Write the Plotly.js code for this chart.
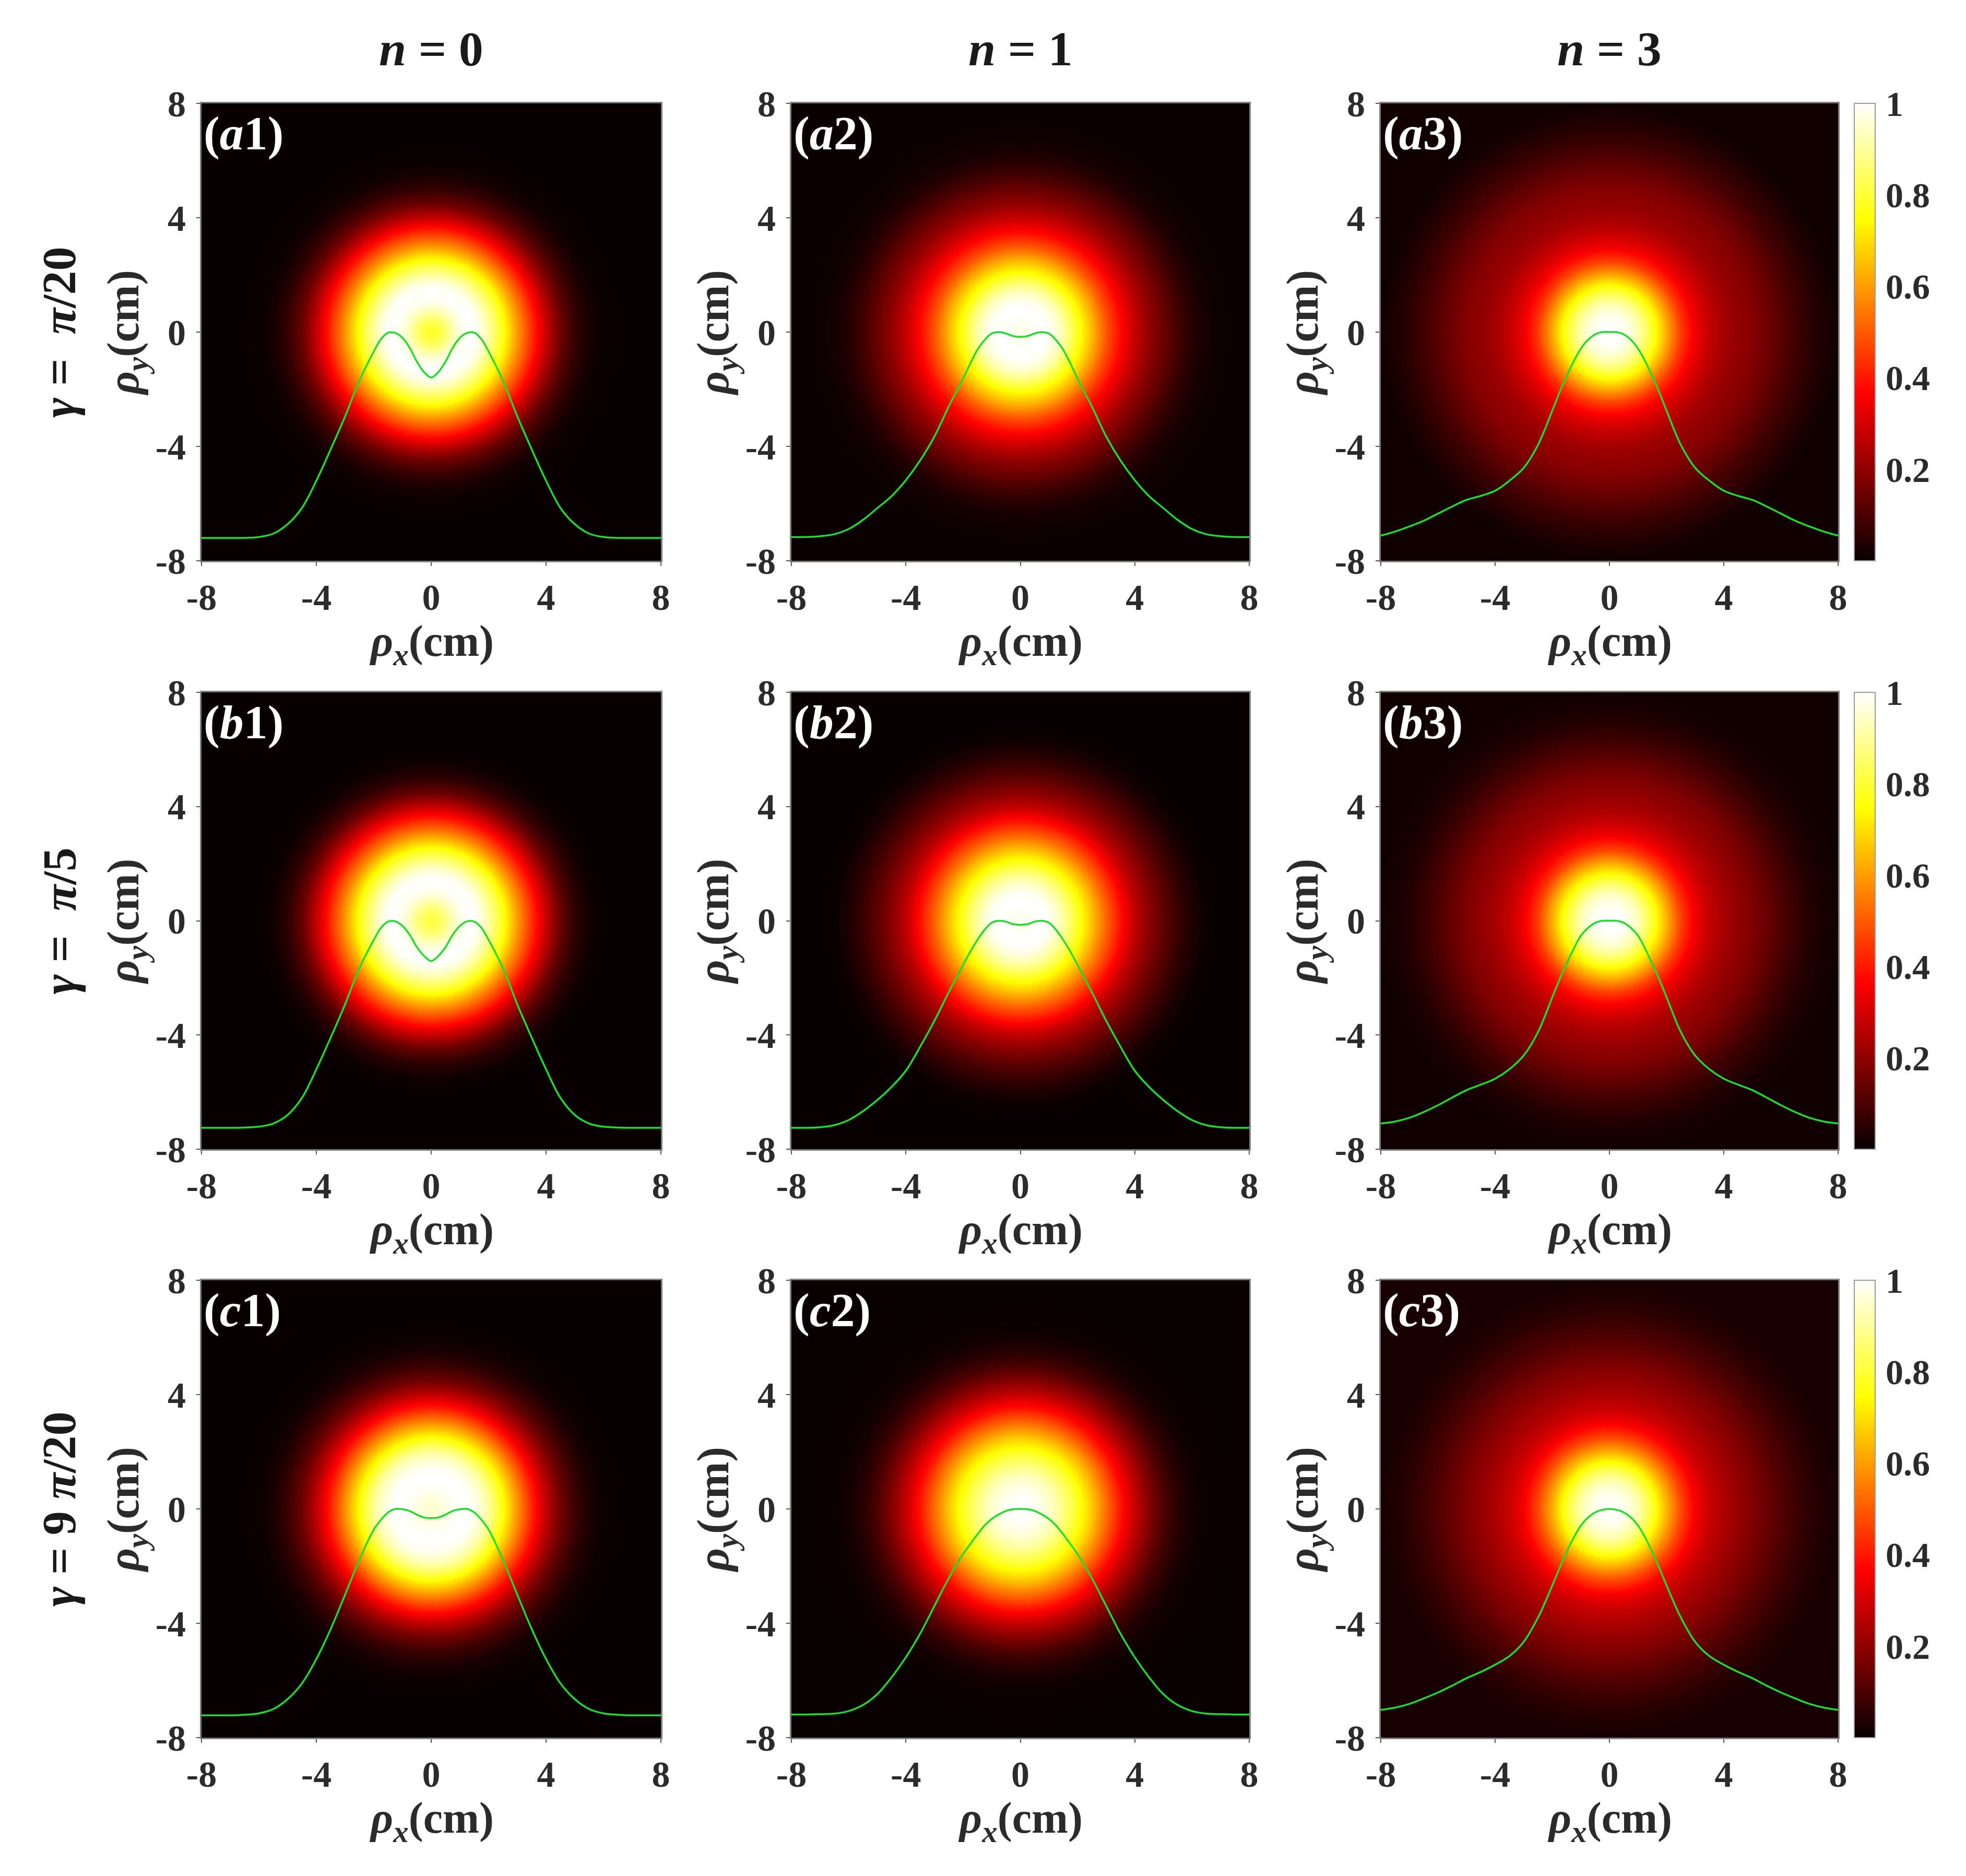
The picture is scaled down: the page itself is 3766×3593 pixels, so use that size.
<!DOCTYPE html>
<html><head><meta charset="utf-8">
<script src="https://cdn.plot.ly/plotly-3.0.1.min.js"></script>
<style>html,body{margin:0;padding:0;background:#fff}</style>
</head><body><div id="chart" style="width:3766px;height:3593px"></div>
<script>
// Radial coordinate (cm) at which each profile was read
const radius = [0,.25,.5,.75,1,1.25,1.5,1.75,2,2.5,3,3.5,4,4.5,5,5.5,6,6.5,7,7.5,8];
// Green-curve height (rho_y, cm) read at those radii, one list per panel
const a1 = [-1.59,-1.4,-1.03,-.55,-.2,-.03,-.02,-.25,-.68,-1.7,-2.95,-4.1,-5.2,-6.15,-6.72,-7.05,-7.17,-7.2,-7.2,-7.2,-7.2];
const a2 = [-.17,-.14,-.05,0,-.05,-.28,-.62,-1.1,-1.63,-2.6,-3.65,-4.49,-5.18,-5.74,-6.16,-6.57,-6.89,-7.07,-7.14,-7.17,-7.17];
const a3 = [0,0,-.08,-.27,-.58,-1.02,-1.55,-2.12,-2.75,-3.95,-4.75,-5.2,-5.55,-5.73,-5.87,-6.1,-6.35,-6.6,-6.8,-6.98,-7.12];
const b1 = [-1.41,-1.23,-.92,-.49,-.18,-.02,-.03,-.25,-.67,-1.66,-2.93,-4.09,-5.2,-6.2,-6.8,-7.1,-7.21,-7.24,-7.25,-7.25,-7.25];
const b2 = [-.14,-.12,-.03,0,-.07,-.32,-.67,-1.08,-1.55,-2.5,-3.5,-4.41,-5.25,-5.82,-6.28,-6.67,-6.98,-7.16,-7.23,-7.25,-7.25];
const b3 = [0,0,-.07,-.25,-.52,-.98,-1.51,-2.07,-2.68,-3.9,-4.72,-5.2,-5.53,-5.74,-5.93,-6.19,-6.46,-6.7,-6.9,-7.03,-7.1];
const c1 = [-.32,-.3,-.2,-.07,-.01,0,-.12,-.38,-.72,-1.78,-3,-4.2,-5.25,-6.1,-6.65,-7,-7.15,-7.2,-7.22,-7.22,-7.22];
const c2 = [0,-.01,-.07,-.19,-.35,-.58,-.89,-1.23,-1.58,-2.42,-3.39,-4.36,-5.19,-5.89,-6.48,-6.86,-7.07,-7.16,-7.18,-7.19,-7.19];
const c3 = [0,-.03,-.12,-.3,-.58,-1.0,-1.51,-2.08,-2.68,-3.8,-4.65,-5.15,-5.45,-5.7,-5.92,-6.18,-6.42,-6.63,-6.82,-6.95,-7.03];
const panels = [[a1,a2,a3],[b1,b2,b3],[c1,c2,c3]];
const panelLabels = [['a','1'],['a','2'],['a','3'],['b','1'],['b','2'],['b','3'],['c','1'],['c','2'],['c','3']];
const columnTitles = ['0','1','3'];
const rowTitles = ['<i>γ</i> =  <i>π</i>/20','<i>γ</i> =  <i>π</i>/5','<i>γ</i> = 9 <i>π</i>/20'];
const tickVals = [-8,-4,0,4,8];
const tickText = ['-8','-4','0','4','8'];
const barVals = [0.2,0.4,0.6,0.8,1];
const barText = ['0.2','0.4','0.6','0.8','1'];
const curveBase = -7.2;   // rho_y position of zero on the overlaid curve

const W = 3766, H = 3593;
const colL = [386,1516,2645], colR = [1266,2393,3521];
const rowT = [198,1326,2452], rowB = [1074,2201,3328];
const FONT = 'Liberation Serif';
const TXT = '#2b2b2b';
const hot = [[0,'#080000'],[0.365,'#ff0000'],[0.746,'#ffff00'],[1,'#ffffff']];

const fx = p => p / W, fy = p => 1 - p / H;

function lookup(prof, r) {
  if (r >= radius[radius.length-1]) return prof[prof.length-1];
  let i = 0;
  while (radius[i+1] < r) i++;
  const t = (r - radius[i]) / (radius[i+1] - radius[i]);
  return prof[i] + t * (prof[i+1] - prof[i]);
}
const grid = [];
for (let i = -80; i <= 80; i++) grid.push(i / 10);

const data = [], layout = {
  width: W, height: H, margin: {l:0,r:0,t:0,b:0},
  paper_bgcolor: '#fff', plot_bgcolor: '#000', showlegend: false,
  font: {family: FONT, color: TXT, size: 70}, annotations: []
};

panels.forEach((row, ri) => row.forEach((prof, ci) => {
  const n = ri * 3 + ci + 1, sfx = n === 1 ? '' : String(n);
  const z = grid.map(y => grid.map(x => {
    const v = lookup(prof, Math.sqrt(x*x + y*y));
    return Math.max(0, Math.min(1, (v - curveBase) / -curveBase));
  }));
  const hm = {type:'heatmap', x:grid, y:grid, z:z, xaxis:'x'+sfx, yaxis:'y'+sfx,
    colorscale:hot, zmin:0, zmax:1, zsmooth:'best', hoverinfo:'skip', showscale:false};
  if (ci === 2) {
    hm.showscale = true;
    hm.colorbar = {x:3552/W, xanchor:'left', xpad:0, ypad:0, thickness:40, thicknessmode:'pixels',
      y:(fy(rowT[ri])+fy(rowB[ri]))/2, yanchor:'middle', len:(rowB[ri]-rowT[ri])/H, lenmode:'fraction',
      outlinewidth:2, outlinecolor:'#9a9a9a', tickmode:'array', tickvals:barVals, ticktext:barText,
      ticks:'outside', ticklen:6, tickcolor:'rgba(0,0,0,0)',
      tickfont:{family:FONT, size:68, color:TXT, weight:'bold'}};
  }
  data.push(hm);
  const xs = radius.slice(1).reverse().map(r => -r).concat(radius);
  const ys = prof.slice(1).reverse().concat(prof);
  data.push({type:'scatter', mode:'lines', x:xs, y:ys, xaxis:'x'+sfx, yaxis:'y'+sfx,
    line:{color:'#1fdc2c', width:3.5, shape:'spline', smoothing:1}, hoverinfo:'skip'});

  const base = {range:[-8,8], tickmode:'array', tickvals:tickVals, ticktext:tickText,
    ticks:'outside', ticklen:7, tickwidth:2, tickcolor:'#555', showline:true, mirror:true,
    linecolor:'#808080', linewidth:3, showgrid:false, zeroline:false, automargin:false,
    tickfont:{family:FONT, size:70, color:TXT, weight:'bold'}};
  layout['xaxis'+sfx] = Object.assign({}, base, {domain:[fx(colL[ci]),fx(colR[ci])], anchor:'y'+sfx,
    ticklabelstandoff:0});
  layout['yaxis'+sfx] = Object.assign({}, base, {domain:[fy(rowB[ri]),fy(rowT[ri])], anchor:'x'+sfx,
    ticklabelstandoff:6,
    title:{text:'<i>ρ</i><sub><i>y</i></sub>(cm)', standoff:4, font:{family:FONT,size:86,color:TXT,weight:'bold'}}});

  layout.annotations.push({xref:'paper', yref:'paper', x:fx((colL[ci]+colR[ci])/2), y:fy(rowB[ri]+160),
    xanchor:'center', yanchor:'middle', showarrow:false, borderpad:0,
    text:'<i>ρ</i><sub><i>x</i></sub>(cm)', font:{family:FONT,size:84,color:TXT,weight:'bold'}});
  layout.annotations.push({xref:'paper', yref:'paper', x:fx(colL[ci]+2), y:fy(rowT[ri]+57),
    xanchor:'left', yanchor:'middle', showarrow:false,
    text:'(<i>'+panelLabels[n-1][0]+'</i>'+panelLabels[n-1][1]+')',
    font:{family:FONT, size:92, color:'#ffffff', weight:'bold'}});
}));

columnTitles.forEach((t, ci) => layout.annotations.push({xref:'paper', yref:'paper',
  x:fx((colL[ci]+colR[ci])/2), y:fy(93), xanchor:'center', yanchor:'middle', showarrow:false,
  text:'<i>n</i> = '+t, font:{family:FONT, size:94, color:'#1a1a1a', weight:'bold'}}));
rowTitles.forEach((t, ri) => layout.annotations.push({xref:'paper', yref:'paper',
  x:fx(113), y:fy((rowT[ri]+rowB[ri])/2), xanchor:'center', yanchor:'middle', showarrow:false, textangle:-90,
  text:t, font:{family:FONT, size:92, color:'#1a1a1a', weight:'bold'}}));

Plotly.newPlot('chart', data, layout, {displayModeBar:false, staticPlot:true});
</script></body></html>
